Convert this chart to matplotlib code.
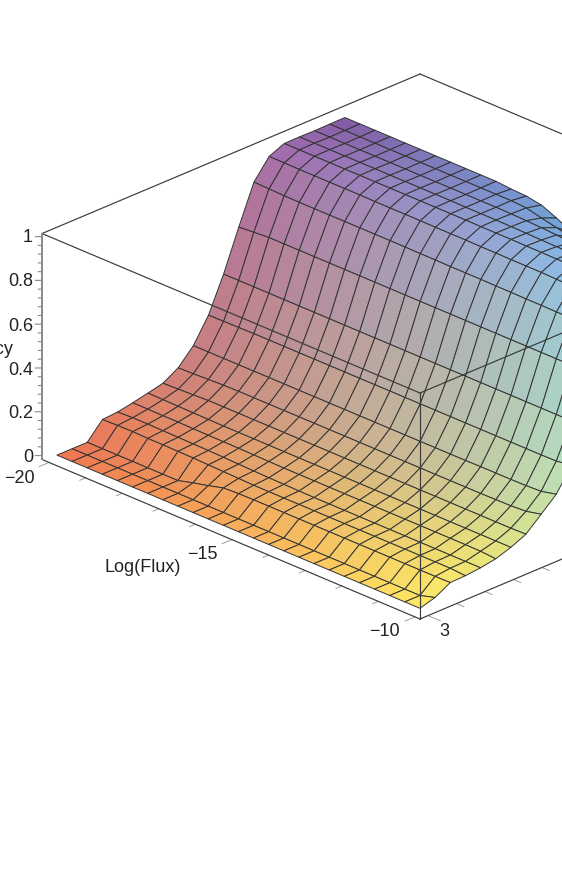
import numpy as np
import matplotlib
matplotlib.use('Agg')
import matplotlib.pyplot as plt

W, H = 562, 872

# surface grid
x_grid = np.linspace(-20, -10.08, 25)
y_grid = np.linspace(3, 13.1, 20)

# one row per y value, one column per x value
efficiency = [
    [0, 0, 0, 0, 0, 0, 0, 0, 0, 0, 0, 0, 0, 0, 0, 0, 0, 0, 0, 0, 0, 0, 0, 0, 0],
    [0, 0, 0, 0, 0, 0, 0, 0, 0, 0, 0, 0, 0, 0, 0, 0, 0, 0, 0, 0, 0, 0, 0, 0, .02],
    [0, 0, 0, 0, 0, 0, 0, .019, .035, .054, .057, .058, .058, .058, .058, .058, .058, .058, .058, .058, .058, .058, .058, .058, .059],
    [.075, .077, .078, .076, .076, .075, .074, .072, .07, .068, .066, .066, .066, .066, .066, .066, .066, .066, .066, .066, .066, .066, .066, .066, .061],
    [.08, .083, .083, .082, .081, .08, .079, .077, .075, .073, .071, .07, .069, .068, .068, .068, .068, .068, .068, .068, .068, .068, .068, .068, .068],
    [.093, .093, .092, .092, .091, .09, .09, .089, .088, .087, .086, .086, .086, .086, .086, .086, .086, .086, .086, .086, .086, .086, .086, .085, .08],
    [.108, .107, .106, .105, .104, .103, .103, .103, .103, .103, .103, .103, .103, .103, .103, .103, .103, .103, .103, .103, .103, .103, .103, .103, .103],
    [.124, .126, .129, .132, .132, .132, .132, .132, .132, .132, .132, .132, .132, .132, .132, .132, .132, .132, .132, .132, .132, .132, .132, .132, .134],
    [.165, .167, .17, .173, .174, .174, .174, .174, .174, .174, .174, .174, .174, .174, .174, .174, .174, .174, .174, .174, .174, .175, .176, .18, .196],
    [.237, .237, .237, .237, .237, .237, .237, .237, .237, .237, .237, .237, .237, .237, .237, .237, .237, .237, .237, .238, .238, .238, .239, .242, .258],
    [.347, .348, .349, .35, .35, .35, .35, .35, .35, .35, .35, .35, .35, .35, .35, .35, .35, .35, .35, .35, .35, .35, .35, .351, .361],
    [.506, .506, .506, .506, .506, .506, .506, .506, .506, .506, .506, .506, .506, .506, .506, .506, .506, .506, .506, .506, .506, .506, .506, .506, .506],
    [.691, .697, .702, .702, .702, .702, .702, .702, .702, .702, .702, .702, .702, .702, .702, .702, .702, .702, .702, .702, .702, .702, .702, .702, .702],
    [.867, .865, .863, .862, .862, .862, .862, .862, .862, .862, .862, .861, .861, .86, .86, .86, .859, .859, .858, .858, .857, .857, .857, .857, .857],
    [.955, .955, .954, .954, .954, .954, .954, .953, .953, .953, .953, .952, .952, .952, .951, .951, .95, .95, .95, .948, .946, .944, .942, .94, .94],
    [.985, .985, .985, .985, .985, .985, .985, .985, .985, .985, .985, .985, .985, .984, .984, .984, .983, .983, .982, .982, .981, .981, .98, .98, .98],
    [.986, .986, .986, .986, .986, .986, .986, .986, .986, .986, .986, .985, .985, .985, .984, .983, .981, .98, .98, .98, .98, .98, .98, .98, .98],
    [.985, .985, .985, .985, .985, .985, .985, .985, .985, .985, .985, .985, .985, .984, .982, .979, .975, .97, .965, .96, .96, .96, .96, .96, .96],
    [.986, .986, .986, .986, .986, .986, .986, .986, .986, .986, .986, .986, .986, .982, .965, .95, .935, .925, .92, .915, .91, .91, .91, .91, .91],
    [.987, .987, .987, .987, .987, .987, .987, .987, .987, .987, .987, .981, .978, .966, .936, .9, .875, .86, .85, .84, .83, .83, .83, .83, .83],
]

z_labels = ['1', '0.8', '0.6', '0.4', '0.2', '0']

# colour of the surface along y, at the low flux and the high flux side
stops = [0, 0.25, 0.5, 0.75, 1]
low_side = [(240, 120, 82), (222, 130, 105), (195, 128, 135), (160, 108, 175), (125, 92, 165)]
high_side = [(255, 235, 100), (232, 232, 125), (185, 225, 185), (135, 210, 245), (95, 210, 255)]


def surface_colors(nx, ny):
    out = np.zeros((ny, nx, 4))
    out[..., 3] = 1
    for j in range(ny):
        t = j / (ny - 1)
        lo = [np.interp(t, stops, [c[k] for c in low_side]) for k in range(3)]
        hi = [np.interp(t, stops, [c[k] for c in high_side]) for k in range(3)]
        for i in range(nx):
            a = i / (nx - 1)
            for k in range(3):
                out[j, i, k] = min((lo[k] * (1 - a) + hi[k] * a) / 255, 1)
    return out


def label(px, py, s, ha='right', size=13):
    fig.text(px / W, 1 - py / H, s, ha=ha, va='center', fontsize=size,
             family='Liberation Sans', color='#222222')


fig = plt.figure(figsize=(W / 100, H / 100), dpi=100)
side = 772.7
ax = fig.add_axes([23.2 / W, 128.7 / H, side / W, side / H], projection='3d',
                  proj_type='ortho', computed_zorder=False)
ax.view_init(elev=24.96, azim=-45)
ax.set_box_aspect((1, 1, 0.4663))
xlo, xhi = -20.19, -9.86
ylo, yhi = 2.72, 15.98
zlo, zhi = -0.018, 1.014
ax.set_xlim(xlo, xhi, view_margin=0)
ax.set_ylim(ylo, yhi, view_margin=0)
ax.set_zlim(zlo, zhi, view_margin=0)
ax.set_axis_off()

X, Y = np.meshgrid(x_grid, y_grid)
Z = np.array(efficiency)
ax.plot_surface(X, Y, Z, rstride=1, cstride=1, facecolors=surface_colors(len(x_grid), len(y_grid)),
                shade=False, edgecolor='#333333', linewidth=0.7, antialiased=True, zorder=1)

frame = dict(color='#3a3a3a', lw=0.85, zorder=3)
ax.plot([xlo, xhi], [ylo, ylo], [zlo, zlo], **frame)
ax.plot([xhi, xhi], [ylo, yhi], [zlo, zlo], **frame)
ax.plot([xhi, xhi], [ylo, ylo], [zlo, zhi], **frame)
ax.plot([xlo, xhi], [ylo, ylo], [zhi, zhi], **frame)
ax.plot([xhi, xhi], [ylo, yhi], [zhi, zhi], **frame)
ax.plot([xlo, xlo], [ylo, yhi], [zhi, zhi], **frame)
ax.plot([xlo, xhi], [yhi, yhi], [zhi, zhi], **frame)
ax.plot([xlo, xlo], [ylo, ylo], [zlo, zhi], color='#8a8a8a', lw=1.4, zorder=3)

# ticks
tick = dict(color='#a0a0a0', lw=0.7, zorder=2)
for v in range(-20, -9):
    n = 0.34 if v % 5 == 0 else 0.2
    ax.plot([v, v], [ylo, ylo - n], [zlo, zlo], **tick)
for v in range(3, 16):
    n = 0.34 if v % 5 == 3 else 0.2
    ax.plot([xhi, xhi + n], [v, v], [zlo, zlo], **tick)
for v in np.arange(0, 1.01, 0.04):
    major = abs(v * 5 - round(v * 5)) < 1e-6
    n = 0.09 if major else 0.05
    ax.plot([xlo, xlo - n], [ylo, ylo - n * 1.3], [v, v], color='#8a8a8a', lw=0.8, zorder=3)

for s, py in zip(z_labels, [238, 282, 326, 370, 413, 457]):
    label(33, py, s)
label(35, 478, '\u221220')
label(218, 554, '\u221215')
label(400, 631, '\u221210')
label(449, 631, '3')
label(181, 568, 'Log(Flux)')
label(13, 350, 'Efficiency')

fig.savefig('out.png', dpi=100)
